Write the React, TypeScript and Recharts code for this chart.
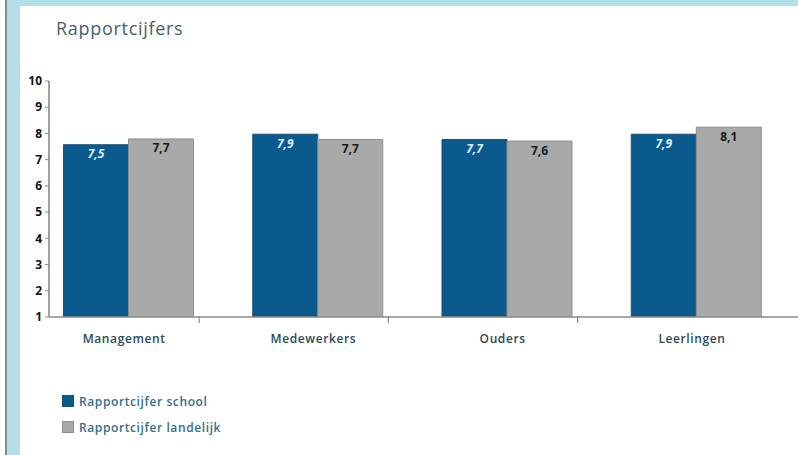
import React from "react";
import { BarChart, Bar, XAxis, YAxis, LabelList } from "recharts";

const categories = ["Management", "Medewerkers", "Ouders", "Leerlingen"];
// bar heights
const schoolValues = [7.57, 7.97, 7.77, 7.97];
const landelijkValues = [7.79, 7.77, 7.71, 8.24];
// printed value labels
const schoolLabels = ["7,5", "7,9", "7,7", "7,9"];
const landelijkLabels = ["7,7", "7,7", "7,6", "8,1"];
const yTicks = [1, 2, 3, 4, 5, 6, 7, 8, 9, 10];
// category label positions plus the small separator ticks on the x axis
const xTicks = [0, 0.375, 1, 1.375, 2, 2.375, 3];

const SCHOOL = "#0a5a8e";
const LANDELIJK = "#a9a9a9";

const data = categories.map((name, i) => ({
  idx: i,
  name,
  school: schoolValues[i],
  landelijk: landelijkValues[i],
  schoolLabel: schoolLabels[i],
  landelijkLabel: landelijkLabels[i],
}));

const font = "'Open Sans', 'Noto Sans', sans-serif";

function XTick(props: any) {
  const { x, y, payload } = props;
  const v = payload.value as number;
  if (Number.isInteger(v)) {
    return (
      <text
        x={x - 4}
        y={y + 24}
        textAnchor="middle"
        fontFamily={font}
        fontSize={12}
        fontWeight={600}
        letterSpacing={0.6}
        fill="#2d4858"
      >
        {categories[v]}
      </text>
    );
  }
  return <line x1={x} x2={x} y1={y - 3} y2={y + 4} stroke="#8a8a8a" strokeWidth={1.2} />;
}

export default function App() {
  return (
    <div
      style={{
        position: "absolute",
        left: 0,
        top: 0,
        width: 798,
        height: 455,
        background: "#fff",
        overflow: "hidden",
      }}
    >
      <div style={{ position: "absolute", left: 5, top: 0, width: 2, height: 455, background: "#8c8c8c" }} />
      <div style={{ position: "absolute", left: 7, top: 0, width: 800, height: 455, background: "#b3dde7" }} />
      <div style={{ position: "absolute", left: 20, top: 6, width: 800, height: 460, background: "#fff" }} />

      <div
        style={{
          position: "absolute",
          left: 56,
          top: 18,
          fontFamily: font,
          fontSize: 18,
          lineHeight: "20px",
          letterSpacing: 0.7,
          color: "#45606f",
        }}
      >
        Rapportcijfers
      </div>

      <div style={{ position: "absolute", left: 0, top: 0 }}>
        <BarChart
          width={800}
          height={360}
          data={data}
          margin={{ top: 81, right: 0, bottom: 13, left: 9 }}
          barGap={0}
          barSize={65}
        >
          <XAxis
            type="number"
            dataKey="idx"
            domain={[-0.418, 3.55]}
            allowDataOverflow
            ticks={xTicks}
            interval={0}
            tick={<XTick />}
            tickLine={false}
            tickSize={0}
            height={30}
            axisLine={{ stroke: "#8a8a8a", strokeWidth: 1.6 }}
          />
          <YAxis
            type="number"
            domain={[1, 10]}
            ticks={yTicks}
            interval={0}
            allowDataOverflow
            width={40}
            tickSize={4}
            tickMargin={3}
            tickLine={{ stroke: "#8a8a8a" }}
            axisLine={{ stroke: "#8a8a8a", strokeWidth: 1.6 }}
            tick={{ fontFamily: font, fontSize: 12, fontWeight: 700, fill: "#111" }}
          />
          <Bar dataKey="school" fill={SCHOOL} stroke="#1f4f73" strokeWidth={1} isAnimationActive={false}>
            <LabelList
              dataKey="schoolLabel"
              position="insideTop"
              offset={5}
              fill="#dcefff"
              fontFamily={font}
              fontSize={12}
              fontWeight={700}
              fontStyle="italic"
            />
          </Bar>
          <Bar dataKey="landelijk" fill={LANDELIJK} stroke="#8c8c8c" strokeWidth={1} isAnimationActive={false}>
            <LabelList
              dataKey="landelijkLabel"
              position="insideTop"
              offset={5}
              fill="#1a1a1a"
              fontFamily={font}
              fontSize={12}
              fontWeight={700}
            />
          </Bar>
        </BarChart>
      </div>

      <div style={{ position: "absolute", left: 62, top: 388, fontFamily: font }}>
        {[
          { name: "Rapportcijfer school", color: SCHOOL, border: "#1f4f73" },
          { name: "Rapportcijfer landelijk", color: LANDELIJK, border: "#8c8c8c" },
        ].map((item) => (
          <div key={item.name} style={{ display: "flex", alignItems: "center", height: 26 }}>
            <span
              style={{
                display: "inline-block",
                width: 10,
                height: 10,
                background: item.color,
                border: `1px solid ${item.border}`,
                marginRight: 5,
              }}
            />
            <span style={{ fontSize: 12, fontWeight: 600, letterSpacing: 0.6, color: "#2f6f8e" }}>{item.name}</span>
          </div>
        ))}
      </div>
    </div>
  );
}
